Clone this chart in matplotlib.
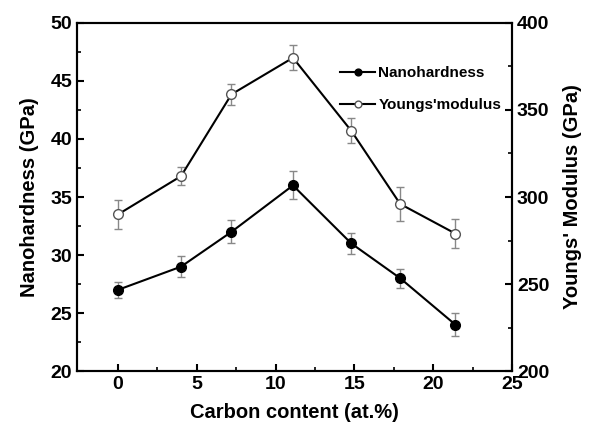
import matplotlib.pyplot as plt
import numpy as np

plt.rcParams['font.family'] = ['Liberation Sans', 'DejaVu Sans']
plt.rcParams['font.weight'] = 'bold'

# carbon content (at.%)
carbon = [0, 4, 7.2, 11.1, 14.8, 17.9, 21.4]
# nanohardness (GPa) with error
hard = [27.0, 29.0, 32.0, 36.0, 31.0, 28.0, 24.0]
hard_err = [0.7, 0.9, 1.0, 1.2, 0.9, 0.8, 1.0]
# Young's modulus (GPa) with error
young = [290, 312, 359, 380, 338, 296, 279]
young_err = [8.1, 5.3, 6.2, 7.1, 7.2, 9.9, 8.1]

xt = [0, 5, 10, 15, 20, 25]
yt_left = [20, 25, 30, 35, 40, 45, 50]
yt_right = [200, 250, 300, 350, 400]

fig = plt.figure(figsize=(5.9, 4.33), dpi=100)
ax = fig.add_axes([0.1305, 0.143, 0.7375, 0.804])
ax2 = ax.twinx()

ax.errorbar(carbon, hard, yerr=hard_err, color='black', ecolor='#888888',
            elinewidth=1, capsize=3, capthick=1, marker='o', ms=7,
            mfc='black', mec='black', lw=1.5, label='Nanohardness')
ax2.errorbar(carbon, young, yerr=young_err, color='black', ecolor='#888888',
             elinewidth=1, capsize=3, capthick=1, marker='o', ms=7,
             mfc='white', mec='#555555', lw=1.5, label="Youngs'modulus")

ax.set_xlim(-2.6, 25)
ax.set_ylim(20, 50)
ax2.set_ylim(200, 400)
tp = dict(fontsize=14, fontweight='bold')
ax.set_xticks(xt, [str(v) for v in xt], **tp)
ax.set_xticks(np.arange(2.5, 25, 5), minor=True)
ax.set_yticks(yt_left, [str(v) for v in yt_left], **tp)
ax.set_yticks(np.arange(22.5, 50, 5), minor=True)
ax2.set_yticks(yt_right, [str(v) for v in yt_right], **tp)
ax2.set_yticks(np.arange(225, 400, 50), minor=True)

ax.tick_params(which='both', direction='in', top=False)
ax.tick_params(which='major', length=5, width=1.5)
ax.tick_params(which='minor', length=3, width=1.2)
ax2.tick_params(which='both', direction='in')
ax2.tick_params(which='major', length=5, width=1.5)
ax2.tick_params(which='minor', length=3, width=1.2)
for a in (ax, ax2):
    for s in a.spines.values():
        s.set_linewidth(1.5)

ax.set_xlabel('Carbon content (at.%)', fontsize=14.5, fontweight='bold', labelpad=7)
ax.set_ylabel('Nanohardness (GPa)', fontsize=14.5, fontweight='bold', labelpad=8)
ax2.set_ylabel("Youngs' Modulus (GPa)", fontsize=14.5, fontweight='bold', labelpad=10)

h1, l1 = ax.get_legend_handles_labels()
h2, l2 = ax2.get_legend_handles_labels()
h1 = [h[0] for h in h1]
h2 = [h[0] for h in h2]
ax.legend(h1 + h2, l1 + l2, loc='upper left', bbox_to_anchor=(0.605, 0.875),
          frameon=False, prop={'weight': 'bold', 'size': 11},
          borderaxespad=0, borderpad=0,
          handlelength=2.3, handletextpad=0.2, labelspacing=1.15, markerscale=0.7)

fig.savefig('out.png', dpi=100)
